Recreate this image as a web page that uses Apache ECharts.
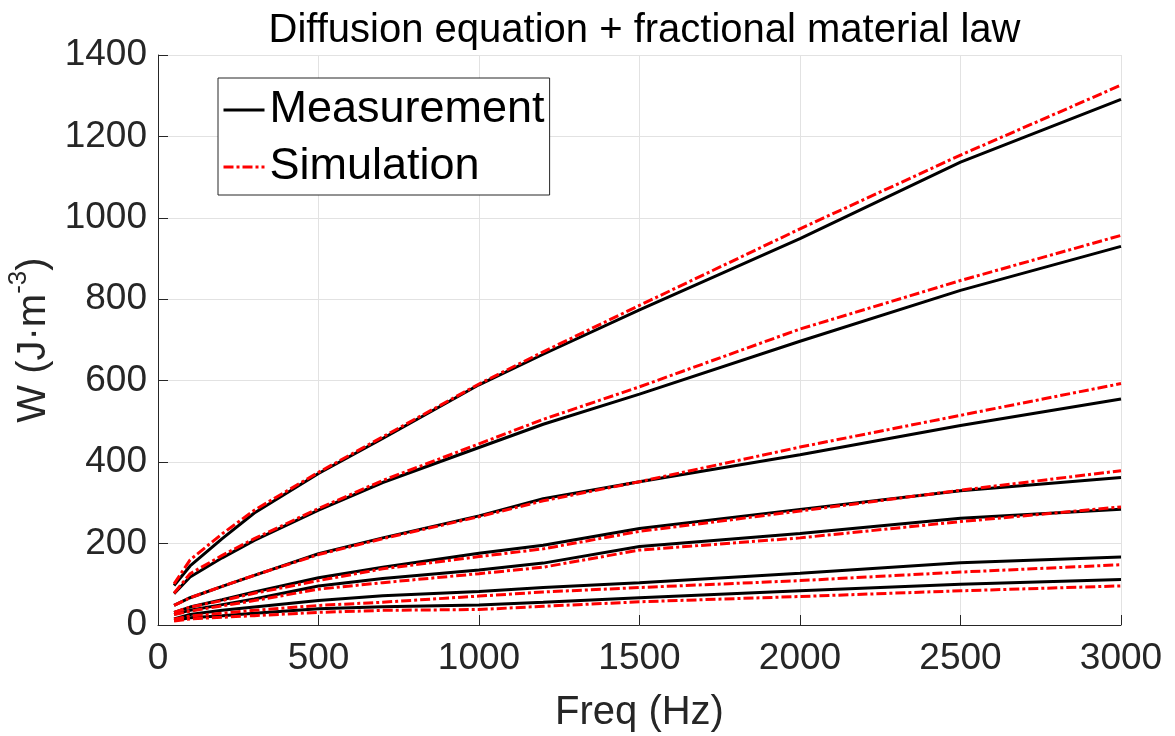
<!DOCTYPE html>
<html>
<head>
<meta charset="utf-8">
<title>Diffusion equation + fractional material law</title>
<script src="https://cdn.jsdelivr.net/npm/echarts@6/dist/echarts.min.js"></script>
<style>
  html, body { margin: 0; padding: 0; background: #fff; }
  #chart { width: 1175px; height: 736px; }
</style>
</head>
<body>
<div id="chart"></div>
<script>
// frequencies (Hz) of the measured / simulated points
var freq = [50, 100, 200, 300, 500, 700, 1000, 1200, 1500, 2000, 2500, 3000];

// measured loss curves W (J.m^-3), top to bottom
var meas1 = [97, 145, 212, 275, 372, 458, 590, 665, 774, 949, 1137, 1291];
var meas2 = [77, 118, 165, 208, 282, 350, 436, 493, 567, 697, 822, 930];
var meas3 = [48, 67, 95, 122, 175, 214, 268, 310, 352, 418, 490, 555];
var meas4 = [31, 44, 62, 81, 116, 142, 176, 196, 237, 284, 330, 362];
var meas5 = [26, 36, 50, 64, 96, 114, 135, 152, 193, 225, 262, 284];
var meas6 = [15, 26, 36, 44, 60, 72, 82, 92, 104, 127, 153, 167];
var meas7 = [11, 18, 23, 29, 40, 45, 49, 56, 67, 84, 100, 112];

// simulated curves
var sim1 = [101, 160, 224, 282, 375, 462, 592, 671, 785, 973, 1154, 1326];
var sim2 = [78, 126, 171, 212, 286, 355, 445, 505, 585, 727, 846, 957];
var sim3 = [48, 67, 95, 122, 173, 212, 266, 305, 352, 437, 515, 593];
var sim4 = [31, 44, 60, 78, 109, 138, 168, 187, 230, 280, 331, 379];
var sim5 = [26, 34, 47, 60, 88, 104, 126, 142, 184, 214, 254, 290];
var sim6 = [14, 22, 29, 36, 48, 56, 71, 81, 92, 109, 130, 148];
var sim7 = [10, 15, 19, 23, 31, 36, 38, 46, 57, 70, 84, 96];

var xTicks = [0, 500, 1000, 1500, 2000, 2500, 3000];
var yTicks = [0, 200, 400, 600, 800, 1000, 1200, 1400];

var measList = [meas1, meas2, meas3, meas4, meas5, meas6, meas7];
var simList = [sim1, sim2, sim3, sim4, sim5, sim6, sim7];

var FONT = "'Liberation Sans', Arial, Helvetica, sans-serif";
var AXIS_COLOR = '#262626';

function pairs(vals) {
  return freq.map(function (f, i) { return [f, vals[i]]; });
}

var series = [];
measList.forEach(function (vals) {
  series.push({
    name: 'Measurement',
    type: 'line',
    data: pairs(vals),
    symbol: 'none',
    silent: true,
    lineStyle: { color: '#000000', width: 3 },
    itemStyle: { color: '#000000' },
    z: 2
  });
});
simList.forEach(function (vals) {
  series.push({
    name: 'Simulation',
    type: 'line',
    data: pairs(vals),
    symbol: 'none',
    silent: true,
    lineStyle: { color: '#ff0000', width: 3, type: [10, 3, 3, 3] },
    itemStyle: { color: '#ff0000' },
    z: 3
  });
});

var chart = echarts.init(document.getElementById('chart'), null, { renderer: 'canvas' });

var option = {
  backgroundColor: '#ffffff',
  animation: false,
  title: {
    text: 'Diffusion equation + fractional material law',
    left: 639.5,
    textAlign: 'center',
    top: 6,
    textStyle: { fontFamily: FONT, fontSize: 40, fontWeight: 'normal', color: '#000000' }
  },
  legend: {
    data: ['Measurement', 'Simulation'],
    orient: 'vertical',
    left: 218,
    top: 78,
    padding: [7, 5, 3, 4],
    itemGap: 7,
    itemWidth: 41,
    itemHeight: 14,
    backgroundColor: '#ffffff',
    borderColor: AXIS_COLOR,
    borderWidth: 1,
    borderRadius: 0,
    selectedMode: false,
    itemStyle: { opacity: 0 },
    lineStyle: { width: 3 },
    textStyle: { fontFamily: FONT, fontSize: 45, lineHeight: 50, color: '#000000', padding: [0, 0, 0, 0] }
  },
  grid: {
    left: 158,
    right: 54,
    top: 55,
    bottom: 111,
    containLabel: false,
    outerBoundsMode: 'none'
  },
  xAxis: {
    type: 'value',
    min: 0,
    max: 3000,
    interval: 500,
    name: 'Freq (Hz)',
    nameLocation: 'middle',
    nameGap: 68,
    nameTextStyle: { fontFamily: FONT, fontSize: 40, color: AXIS_COLOR },
    axisLine: { show: true, onZero: false, lineStyle: { color: AXIS_COLOR, width: 1 } },
    axisTick: { show: true, inside: true, length: 10, lineStyle: { color: AXIS_COLOR, width: 1 } },
    axisLabel: {
      margin: 15,
      fontFamily: FONT, fontSize: 37, color: AXIS_COLOR,
      formatter: function (v) { return xTicks.indexOf(v) >= 0 ? String(v) : ''; }
    },
    splitLine: { show: true, lineStyle: { color: '#e2e2e2', width: 1 } }
  },
  yAxis: {
    type: 'value',
    min: 0,
    max: 1400,
    interval: 200,
    name: '{a|W (J·m}{s|-3}{a|)}',
    nameLocation: 'middle',
    nameRotate: 90,
    nameGap: 88,
    nameTextStyle: {
      fontFamily: FONT, color: AXIS_COLOR,
      rich: {
        a: { fontFamily: FONT, fontSize: 40, lineHeight: 40, color: AXIS_COLOR, verticalAlign: 'bottom' },
        s: { fontFamily: FONT, fontSize: 26, lineHeight: 26, color: AXIS_COLOR, verticalAlign: 'bottom', padding: [0, 0, 22, 0] }
      }
    },
    axisLine: { show: true, onZero: false, lineStyle: { color: AXIS_COLOR, width: 1 } },
    axisTick: { show: true, inside: true, length: 10, lineStyle: { color: AXIS_COLOR, width: 1 } },
    axisLabel: {
      margin: 11,
      fontFamily: FONT, fontSize: 37, color: AXIS_COLOR,
      formatter: function (v) { return yTicks.indexOf(v) >= 0 ? String(v) : ''; }
    },
    splitLine: { show: true, lineStyle: { color: '#e2e2e2', width: 1 } }
  },
  series: series
};

chart.setOption(option);
</script>
</body>
</html>
